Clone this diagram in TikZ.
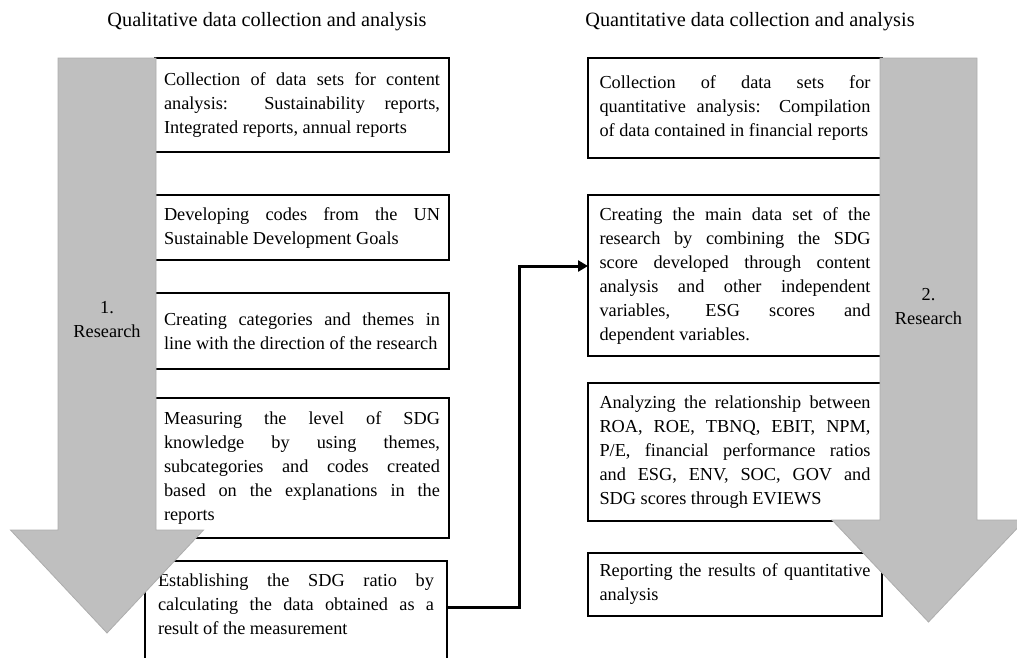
\documentclass[tikz,border=0pt]{standalone}
\usepackage{fontspec}
\setmainfont{Liberation Serif}
\usetikzlibrary{arrows.meta,positioning}
\sloppy
\hyphenpenalty=10000

\begin{document}
\begin{tikzpicture}[
    x=1pt, y=-1pt,
    qual/.style={rectangle, draw, fill=white, line width=2pt, outer sep=0pt, text width=276pt, align=justify, inner xsep=9pt, inner ysep=4pt, font=\fontsize{18.3}{24}\selectfont},
    quant/.style={qual, text width=271pt, inner xsep=11.5pt},
    title/.style={font=\fontsize{20.3}{24}\selectfont},
    label/.style={align=center, font=\fontsize{18.3}{24}\selectfont},
    bigarrow/.style={fill=black!25, draw=black!32, line width=0.8pt},
    arrow/.style={->, >={Triangle[length=10pt,width=11pt]}, line width=3pt}
]
\useasboundingbox (0,0) rectangle (1017,657);

% Titles
\node[title] (t1) at (267,22) {Qualitative data collection and analysis};
\node[title] (t2) at (750,22) {Quantitative data collection and analysis};

% Qualitative steps
\node[qual, anchor=north west, minimum height=94pt] (q1) at (155,58) {Collection of data sets for content \linebreak analysis: Sustainability reports, \linebreak Integrated reports, annual reports};
\node[qual, below=43pt of q1, minimum height=65pt] (q2) {Developing codes from the UN \linebreak Sustainable Development Goals};
\node[qual, below=33pt of q2, minimum height=76pt] (q3) {Creating categories and themes in \linebreak line with the direction of the research};
\node[qual, below=29pt of q3, minimum height=140pt] (q4) {Measuring the level of SDG \linebreak knowledge by using themes, \linebreak subcategories and codes created \linebreak based on the explanations in the \linebreak reports};
\node[qual, below=23pt of q4, xshift=-6pt, inner xsep=13pt, inner ysep=13pt, text depth=120pt] (q5) {Establishing the SDG ratio by \linebreak calculating the data obtained as a \linebreak result of the measurement};

% Quantitative steps
\node[quant, anchor=north west, minimum height=100pt] (n1) at (588,58) {Collection of data sets for \linebreak quantitative analysis: Compilation \linebreak of data contained in financial reports};
\node[quant, below=37pt of n1, minimum height=161pt] (n2) {Creating the main data set of the \linebreak research by combining the SDG \linebreak score developed through content \linebreak analysis and other independent \linebreak variables, ESG scores and \linebreak dependent variables.};
\node[quant, below=27pt of n2, minimum height=138pt] (n3) {Analyzing the relationship between \linebreak ROA, ROE, TBNQ, EBIT, NPM, \linebreak P/E, financial performance ratios \linebreak and ESG, ENV, SOC, GOV and \linebreak SDG scores through EVIEWS};
\node[quant, below=32pt of n3, minimum height=63pt] (n4) {Reporting the results of quantitative \linebreak analysis};

% Big arrows
\draw[bigarrow] (58,58) -- (156,58) -- (156,530) -- (203.5,530) -- (107,633) -- (10.5,530) -- (58,530) -- cycle;
\draw[bigarrow] (880,58) -- (977,58) -- (977,520) -- (1025,520) -- (928.5,622) -- (832,520) -- (880,520) -- cycle;
\node[label] (r1) at (107,320) {1.\\Research};
\node[label] (r2) at (928.5,307) {2.\\Research};

% Link
\coordinate (turn) at (519,607);
\draw[arrow] ([yshift=-46pt]q5.north east) -| (turn) |- ([yshift=9.5pt]n2.west);

\end{tikzpicture}
\end{document}
